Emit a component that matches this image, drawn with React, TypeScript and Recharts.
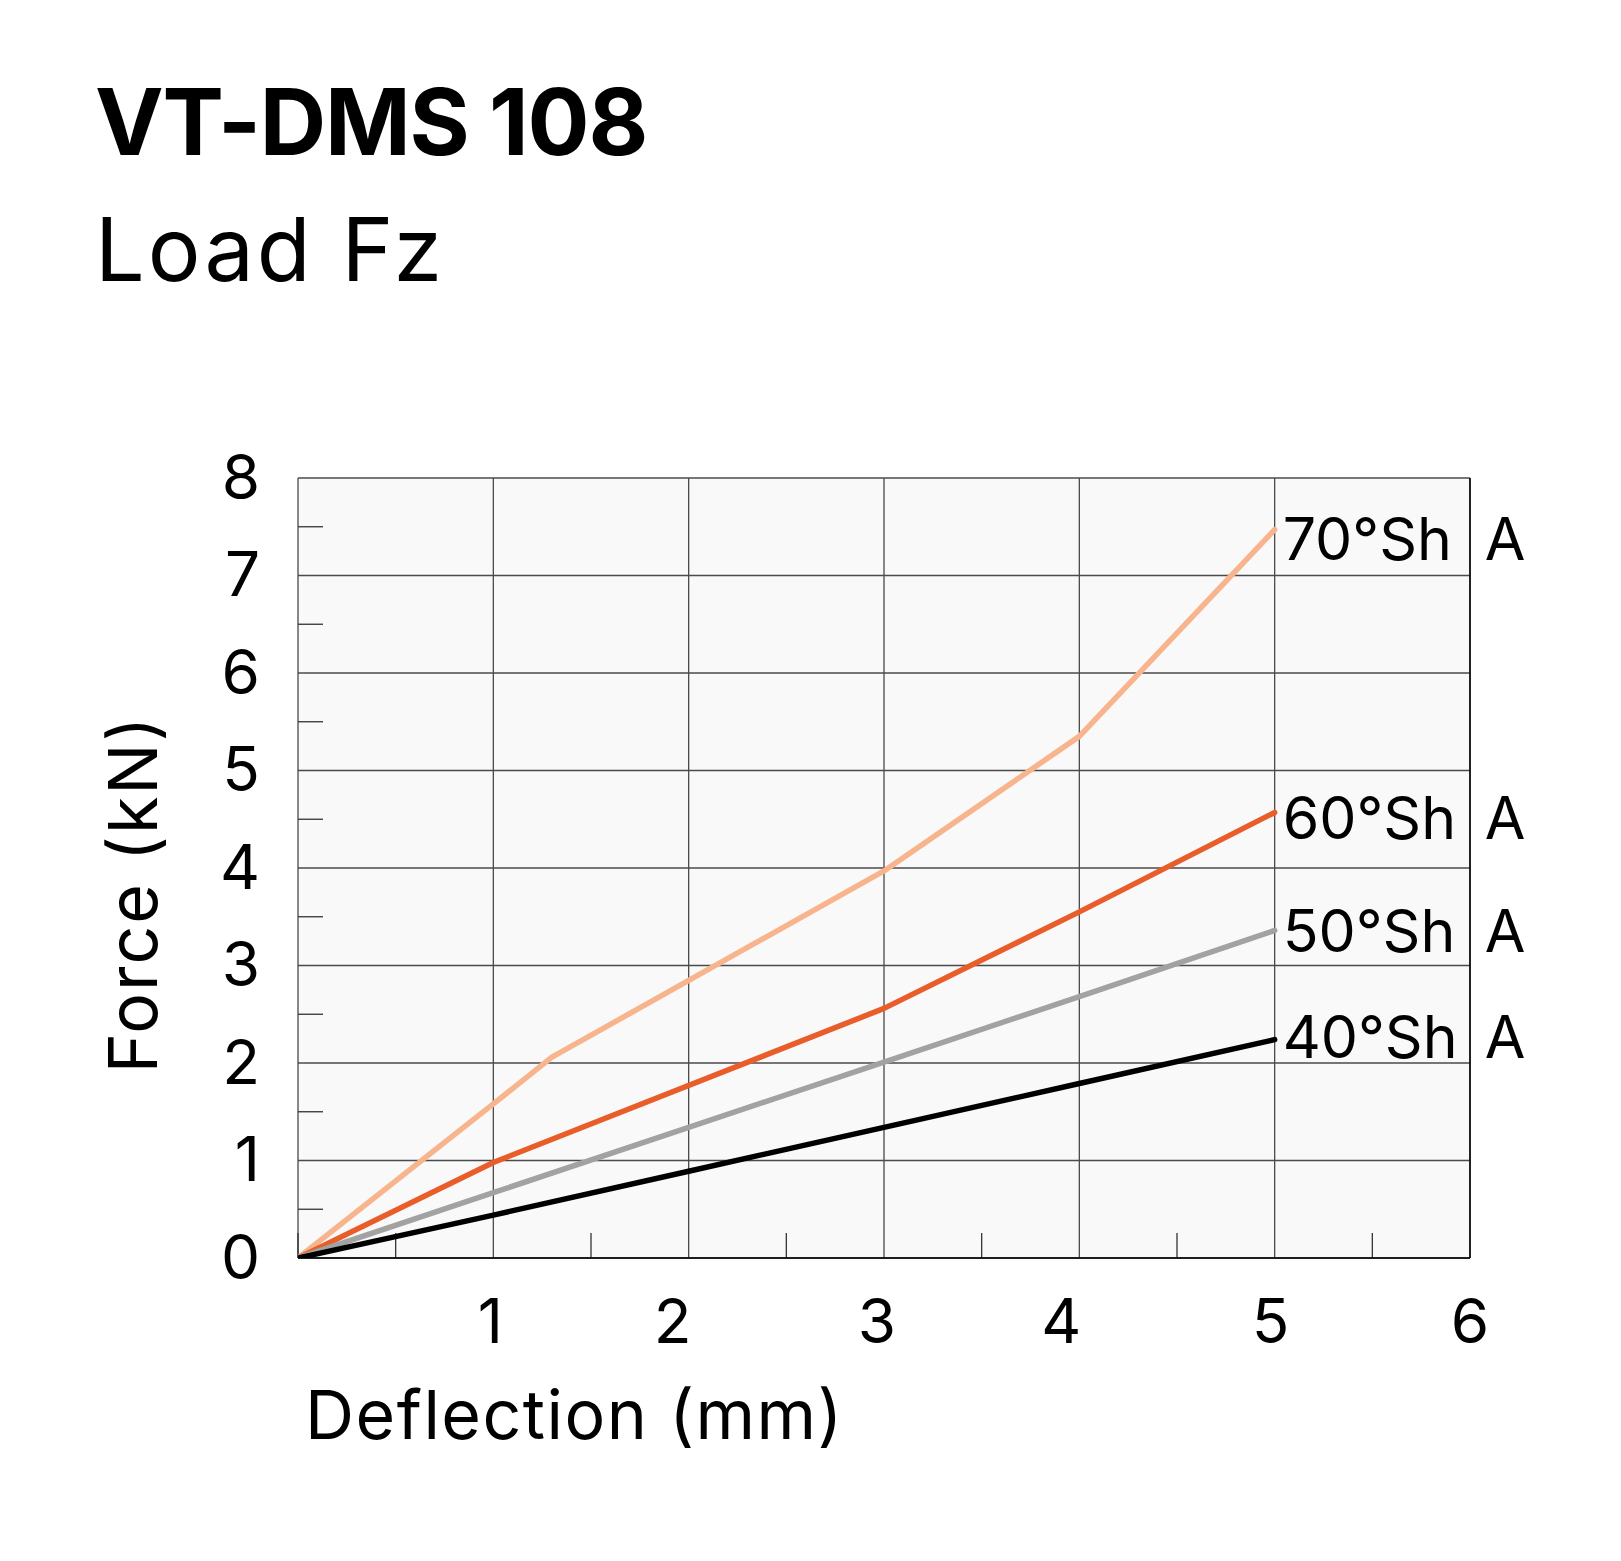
import React from 'react';
import { LineChart, Line, XAxis, YAxis, CartesianGrid, ReferenceLine } from 'recharts';

const xTicks = [1, 2, 3, 4, 5, 6];
const yTicks = [0, 1, 2, 3, 4, 5, 6, 7, 8];
const xMinor = [0, 0.5, 1.5, 2.5, 3.5, 4.5, 5.5];
const yMinor = [0.5, 1.5, 2.5, 3.5, 4.5, 5.5, 6.5, 7.5];

const defl70 = [0, 1, 1.3, 3, 4, 5];
const force70 = [0, 1.58, 2.06, 3.97, 5.35, 7.47];
const defl60 = [0, 1, 3, 4, 5];
const force60 = [0, 0.98, 2.56, 3.55, 4.57];
const defl50 = [0, 1, 2, 3, 4, 5];
const force50 = [0, 0.67, 1.34, 2.01, 2.68, 3.36];
const defl40 = [0, 1, 2, 3, 4, 5];
const force40 = [0, 0.44, 0.89, 1.34, 1.79, 2.24];

const seriesNames = ['70°Sh', '60°Sh', '50°Sh', '40°Sh'];
const seriesColors = ['#F7B48D', '#E95D2A', '#A2A2A2', '#000000'];

// label fine-tuning (style only)
const labelDy = [9, 5, 0, -3];
const xTickNudge: Record<number, number> = { 1: -3, 2: -16, 3: -7, 4: -18, 5: -4, 6: 0 };

const zip = (xs: number[], ys: number[]) => xs.map((x, i) => ({ x, y: ys[i] }));
const series = [
  zip(defl70, force70),
  zip(defl60, force60),
  zip(defl50, force50),
  zip(defl40, force40),
];

const FONT = 'Inter, "Noto Sans", sans-serif';

const YTick = (props: any) => {
  const { x, y, payload } = props;
  return (
    <text x={x} y={y - 2} textAnchor="end" dominantBaseline="central" fontFamily={FONT} fontSize={62} fill="#000">
      {payload.value}
    </text>
  );
};

const XTick = (props: any) => {
  const { x, y, payload } = props;
  const dx = xTickNudge[payload.value] || 0;
  return (
    <text x={x + dx} y={y + 62} textAnchor="middle" dominantBaseline="central" fontFamily={FONT} fontSize={62} fill="#000">
      {payload.value}
    </text>
  );
};

const makeLabel = (name: string, count: number, dy: number) => (props: any) => {
  const { x, y, index } = props;
  if (index !== count - 1) return null;
  return (
    <g>
      <text x={x + 8} y={y + dy} dominantBaseline="central" fontFamily={FONT} fontSize={59} fill="#000">
        {name}
      </text>
      <text x={x + 210} y={y + dy} dominantBaseline="central" fontFamily={FONT} fontSize={59} fill="#000">
        A
      </text>
    </g>
  );
};

export default function App() {
  return (
    <div style={{ position: 'absolute', left: 0, top: 0, width: 1621, height: 1561, background: '#fff' }}>
      <LineChart
        width={1621}
        height={1561}
        margin={{ top: 478, right: 151, left: 0, bottom: 0 }}
      >
        <CartesianGrid fill="#f9f9f9" fillOpacity={1} stroke="#4a4a4a" strokeWidth={1.3} />
        <XAxis
          type="number"
          dataKey="x"
          domain={[0, 6]}
          ticks={xTicks}
          height={303}
          tickSize={0}
          tickMargin={0}
          tickLine={false}
          axisLine={{ stroke: '#000', strokeWidth: 1.5 }}
          tick={<XTick />}
          interval={0}
          allowDataOverflow
        />
        <YAxis
          type="number"
          dataKey="y"
          domain={[0, 8]}
          ticks={yTicks}
          width={298}
          tickSize={0}
          tickMargin={38}
          tickLine={false}
          axisLine={false}
          tick={<YTick />}
          interval={0}
          allowDataOverflow
        />
        <ReferenceLine x={6} stroke="#000" strokeWidth={1.5} />
        {yMinor.map((v) => (
          <ReferenceLine
            key={'ym' + v}
            segment={[{ x: 0, y: v }, { x: 0.128, y: v }]}
            stroke="#333"
            strokeWidth={1.3}
          />
        ))}
        {xMinor.map((v) => (
          <ReferenceLine
            key={'xm' + v}
            segment={[{ x: v, y: 0 }, { x: v, y: 0.256 }]}
            stroke="#333"
            strokeWidth={1.3}
          />
        ))}
        {series.map((d, i) => (
          <Line
            key={seriesNames[i]}
            data={d}
            dataKey="y"
            type="linear"
            stroke={seriesColors[i]}
            strokeWidth={5.5}
            strokeLinecap="round"
            strokeLinejoin="round"
            dot={false}
            activeDot={false}
            isAnimationActive={false}
            label={makeLabel(seriesNames[i], d.length, labelDy[i])}
          />
        ))}
      </LineChart>
      <svg
        width={1621}
        height={1561}
        style={{ position: 'absolute', left: 0, top: 0, pointerEvents: 'none' }}
      >
        <text x={95} y={155} fontFamily={FONT} fontWeight={700} fontSize={92} letterSpacing={-1.2} fill="#000">
          VT-DMS 108
        </text>
        <text x={95} y={281} fontFamily={FONT} fontWeight={400} fontSize={88} letterSpacing={3} fill="#000">
          Load Fz
        </text>
        <text
          x={132}
          y={894}
          transform="rotate(-90 132 894)"
          textAnchor="middle"
          dominantBaseline="central"
          fontFamily={FONT}
          fontSize={68}
          letterSpacing={2}
          fill="#000"
        >
          Force (kN)
        </text>
        <text x={305} y={1414} dominantBaseline="central" fontFamily={FONT} fontSize={68} letterSpacing={1.5} fill="#000">
          Deflection (mm)
        </text>
      </svg>
    </div>
  );
}
